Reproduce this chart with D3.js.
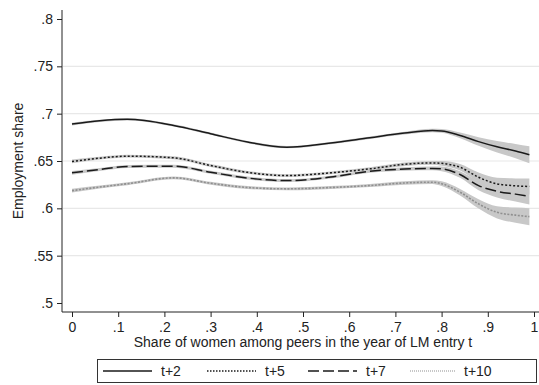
<!DOCTYPE html>
<html><head><meta charset="utf-8">
<script src="https://cdn.jsdelivr.net/npm/d3@7"></script>
<style>body{margin:0;background:#fff;} svg{display:block;font-family:"Liberation Sans",Arial,sans-serif;}</style>
</head><body>
<svg id="c" width="539" height="385"></svg>
<script>
const xTicks = [0,0.1,0.2,0.3,0.4,0.5,0.6,0.7,0.8,0.9,1];
const xTickLabels = ["0",".1",".2",".3",".4",".5",".6",".7",".8",".9","1"];
const yTicks = [0.5,0.55,0.6,0.65,0.7,0.75,0.8];
const yTickLabels = [".5",".55",".6",".65",".7",".75",".8"];
const xs = [0, 0.06, 0.12, 0.22, 0.30, 0.38, 0.465, 0.56, 0.645, 0.72, 0.78, 0.80, 0.84, 0.88, 0.92, 0.96, 0.99];
const t2  = [0.689, 0.6925, 0.694, 0.6876, 0.6788, 0.670, 0.6646, 0.6689, 0.6746, 0.6795, 0.6822, 0.6818, 0.677, 0.6705, 0.665, 0.6605, 0.6566];
const t5  = [0.6495, 0.653, 0.6551, 0.6534, 0.6452, 0.638, 0.6346, 0.6375, 0.6417, 0.6465, 0.648, 0.6475, 0.6434, 0.6328, 0.6258, 0.6238, 0.623];
const t7  = [0.6375, 0.641, 0.6442, 0.6445, 0.6381, 0.632, 0.6293, 0.633, 0.6392, 0.6415, 0.6422, 0.6417, 0.6357, 0.624, 0.618, 0.615, 0.6127];
const t10 = [0.6187, 0.6225, 0.626, 0.6322, 0.6265, 0.622, 0.6206, 0.622, 0.6241, 0.6268, 0.6276, 0.626, 0.617, 0.6047, 0.5958, 0.5928, 0.5912];
const hw2  = [0.0015,0.0012,0.0012,0.0012,0.0012,0.0012,0.0012,0.0012,0.0013,0.0015,0.0018,0.002,0.003,0.0045,0.006,0.0075,0.009];
const hw5  = [0.002,0.0015,0.0015,0.0015,0.0015,0.0015,0.0015,0.0015,0.0016,0.0018,0.002,0.0025,0.0035,0.005,0.0065,0.0078,0.0085];
const hw7  = [0.002,0.0015,0.0015,0.0015,0.0015,0.0015,0.0015,0.0015,0.0016,0.0018,0.002,0.0025,0.0035,0.005,0.0065,0.0078,0.0087];
const hw10 = [0.002,0.0015,0.0015,0.0015,0.0015,0.0015,0.0015,0.0015,0.0016,0.0018,0.002,0.0025,0.0035,0.005,0.0065,0.008,0.009];
const seriesNames = ["t+2","t+5","t+7","t+10"];

const series = [
  {name:seriesNames[0], v:t2,  hw:hw2,  stroke:"#1a1a1a", dash:null,   w:1.5},
  {name:seriesNames[1], v:t5,  hw:hw5,  stroke:"#1a1a1a", dash:"2,2",  w:1.5},
  {name:seriesNames[2], v:t7,  hw:hw7,  stroke:"#1a1a1a", dash:"11,4", w:1.5},
  {name:seriesNames[3], v:t10, hw:hw10, stroke:"#8f8f8f", dash:"2,1.5",w:1.6}
];

const FS = 14;
const svg = d3.select("#c");
const x = d3.scaleLinear().domain([0,1]).range([72,534]);
const y = d3.scaleLinear().domain([0.5,0.8]).range([303,19]);

// gridlines
svg.append("g").selectAll("line").data(yTicks.filter(d=>d>0.51&&d<0.79)).join("line")
  .attr("x1",63).attr("x2",539).attr("y1",d=>y(d)).attr("y2",d=>y(d))
  .attr("stroke","#e8e8e8").attr("stroke-width",1.2);

// bands
const area = d3.area().x(d=>x(d.x)).y0(d=>y(d.lo)).y1(d=>y(d.hi)).curve(d3.curveMonotoneX);
series.forEach(s=>{
  const pts = xs.map((xx,i)=>({x:xx, lo:s.v[i]-s.hw[i], hi:s.v[i]+s.hw[i]}));
  svg.append("path").attr("d",area(pts)).attr("fill","#c8c8c8");
});
// lines
const line = d3.line().x(d=>x(d.x)).y(d=>y(d.y)).curve(d3.curveMonotoneX);
series.slice().reverse().forEach(s=>{
  const pts = xs.map((xx,i)=>({x:xx, y:s.v[i]}));
  svg.append("path").attr("d",line(pts)).attr("fill","none")
    .attr("stroke",s.stroke).attr("stroke-width",s.w)
    .attr("stroke-dasharray",s.dash);
});

// axes
const yAxis = d3.axisLeft(y).tickValues(yTicks).tickFormat((d,i)=>yTickLabels[i]).tickSize(5).tickPadding(4);
const gy = svg.append("g").attr("transform","translate(62,0)").call(yAxis);
gy.select(".domain").attr("d","M0,10V312").attr("stroke","#222");
gy.selectAll(".tick line").attr("stroke","#222");
gy.selectAll("text").attr("font-size",FS).attr("fill","#222").attr("font-family","Liberation Sans, Arial, sans-serif");

const xAxis = d3.axisBottom(x).tickValues(xTicks).tickFormat((d,i)=>xTickLabels[i]).tickSize(5).tickPadding(5);
const gx = svg.append("g").attr("transform","translate(0,312)").call(xAxis);
gx.select(".domain").attr("d","M62,0H539").attr("stroke","#222");
gx.selectAll(".tick line").attr("stroke","#222");
gx.selectAll("text").attr("font-size",FS).attr("fill","#222").attr("font-family","Liberation Sans, Arial, sans-serif");

svg.append("text").attr("x",303).attr("y",347).attr("text-anchor","middle")
  .attr("font-size",FS).attr("fill","#222").text("Share of women among peers in the year of LM entry t");
svg.append("text").attr("transform","translate(23,161) rotate(-90)").attr("text-anchor","middle")
  .attr("font-size",FS).attr("fill","#222").text("Employment share");

// legend
svg.append("rect").attr("x",97.5).attr("y",359.5).attr("width",439).attr("height",23)
  .attr("fill","#fff").attr("stroke","#333").attr("stroke-width",1);
const legX = [103, 207, 308, 410];
const legW = [49, 49, 49, 45];
series.forEach((s,i)=>{
  svg.append("line").attr("x1",legX[i]).attr("x2",legX[i]+legW[i]).attr("y1",371).attr("y2",371)
    .attr("stroke",s.stroke).attr("stroke-width", i===3?1.2:1.5)
    .attr("stroke-dasharray", i===1?"1.5,1.5": i===3?"1,1": s.dash);
  svg.append("text").attr("x",legX[i]+legW[i]+9).attr("y",376).attr("font-size",FS).attr("fill","#222").text(s.name);
});
</script>
</body></html>
